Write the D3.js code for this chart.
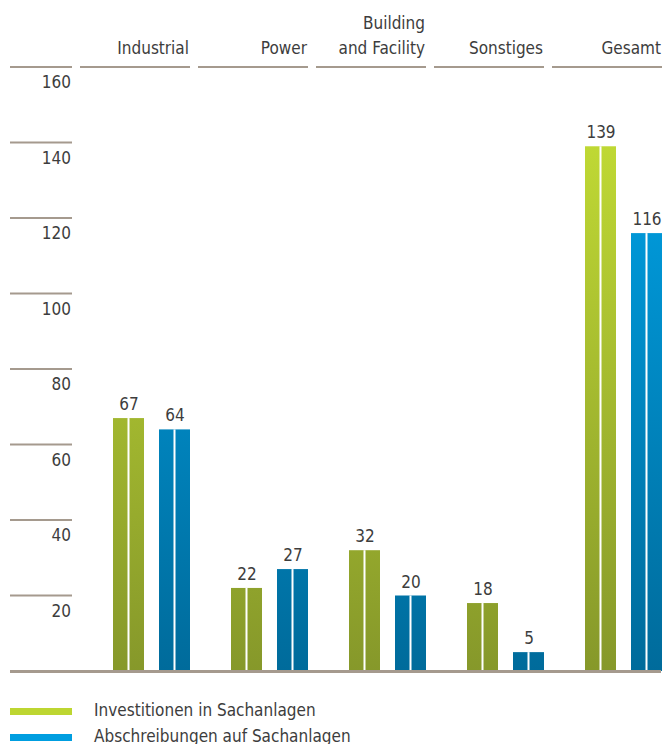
<!DOCTYPE html>
<html><head><meta charset="utf-8">
<script src="https://cdn.jsdelivr.net/npm/d3@7"></script>
<style>
html,body{margin:0;padding:0;background:#fff;}
svg{display:block;font-family:"DejaVu Sans Condensed","DejaVu Sans",sans-serif;font-stretch:condensed;}
</style></head>
<body>
<svg id="chart" width="665" height="744"></svg>
<script>
const categories = ["Industrial", "Power", "Building\nand Facility", "Sonstiges", "Gesamt"];
const seriesNames = ["Investitionen in Sachanlagen", "Abschreibungen auf Sachanlagen"];
const investitionen = [67, 22, 32, 18, 139];
const abschreibungen = [64, 27, 20, 5, 116];
const yTicks = [20, 40, 60, 80, 100, 120, 140, 160];

const svg = d3.select("#chart");
const lineColor = "#a59a8e";
const textColor = "#3d3d3d";
const baseY = 671, topY = 67;

const y = d3.scaleLinear().domain([0, 160]).range([baseY, topY]);
const x = d3.scaleBand().domain(categories).range([80, 662]).paddingInner(8 / 118).paddingOuter(0);
const xs = d3.scaleBand().domain(seriesNames).range([33, 110]).paddingInner(15 / 46);

const defs = svg.append("defs");
function grad(id, c1, c2) {
  const g = defs.append("linearGradient").attr("id", id)
    .attr("gradientUnits", "userSpaceOnUse")
    .attr("x1", 0).attr("x2", 0).attr("y1", y(139)).attr("y2", baseY);
  g.append("stop").attr("offset", 0).attr("stop-color", c1);
  g.append("stop").attr("offset", 1).attr("stop-color", c2);
}
grad("gGreen", "#bfd834", "#86982a");
grad("gBlue", "#009fe2", "#006b9b");
const fills = {[seriesNames[0]]: "url(#gGreen)", [seriesNames[1]]: "url(#gBlue)"};
const legendColors = {[seriesNames[0]]: "#bdd631", [seriesNames[1]]: "#009ee0"};

// y axis tick lines & labels
const yg = svg.append("g");
yg.selectAll("line").data(yTicks).join("line")
  .attr("x1", 10).attr("x2", 72)
  .attr("y1", d => y(d)).attr("y2", d => y(d))
  .attr("stroke", lineColor).attr("stroke-width", 2);
yg.selectAll("text").data(yTicks).join("text")
  .attr("x", 71).attr("y", d => y(d) + 21)
  .attr("text-anchor", "end").attr("font-size", 17).attr("fill", textColor)
  .text(d => d);

// category header lines & labels
const hg = svg.append("g");
hg.selectAll("line").data(categories).join("line")
  .attr("x1", d => x(d)).attr("x2", d => x(d) + x.bandwidth())
  .attr("y1", topY).attr("y2", topY)
  .attr("stroke", lineColor).attr("stroke-width", 2);
hg.selectAll("text").data(categories).join("text")
  .attr("text-anchor", "end").attr("font-size", 17).attr("fill", textColor)
  .each(function(d) {
    const lines = d.split("\n");
    const t = d3.select(this);
    lines.forEach((l, i) => {
      t.append("tspan").attr("x", x(d) + x.bandwidth() - 1)
        .attr("y", 53.5 - (lines.length - 1 - i) * 25).text(l);
    });
  });

// bars
const rows = categories.map((c, i) => ({c, vals: [
  {s: seriesNames[0], v: investitionen[i]},
  {s: seriesNames[1], v: abschreibungen[i]}]}));
const groups = svg.append("g").selectAll("g").data(rows).join("g")
  .attr("transform", d => `translate(${x(d.c)},0)`);
const bars = groups.selectAll("g").data(d => d.vals).join("g");
bars.append("rect")
  .attr("x", d => xs(d.s)).attr("width", xs.bandwidth())
  .attr("y", d => y(d.v)).attr("height", d => baseY - y(d.v))
  .attr("fill", d => fills[d.s]);
bars.append("rect")
  .attr("x", d => xs(d.s) + xs.bandwidth() / 2 - 1).attr("width", 2)
  .attr("y", d => y(d.v)).attr("height", d => baseY - y(d.v))
  .attr("fill", "#fff");
bars.append("text")
  .attr("x", d => xs(d.s) + xs.bandwidth() / 2 + 0.5)
  .attr("y", d => y(d.v) - 8)
  .attr("text-anchor", "middle").attr("font-size", 17).attr("fill", textColor)
  .text(d => d.v);

// baseline
svg.append("line").attr("x1", 10).attr("x2", 661)
  .attr("y1", baseY + 0.5).attr("y2", baseY + 0.5)
  .attr("stroke", lineColor).attr("stroke-width", 3);

// legend
const lg = svg.append("g").selectAll("g").data(seriesNames).join("g")
  .attr("transform", (d, i) => `translate(0,${708 + i * 26})`);
lg.append("rect").attr("x", 10).attr("y", 0).attr("width", 62).attr("height", 7)
  .attr("fill", d => legendColors[d]);
lg.append("text").attr("x", 94).attr("y", 7.5).attr("font-size", 17).attr("fill", textColor)
  .text(d => d);
</script>
</body></html>
